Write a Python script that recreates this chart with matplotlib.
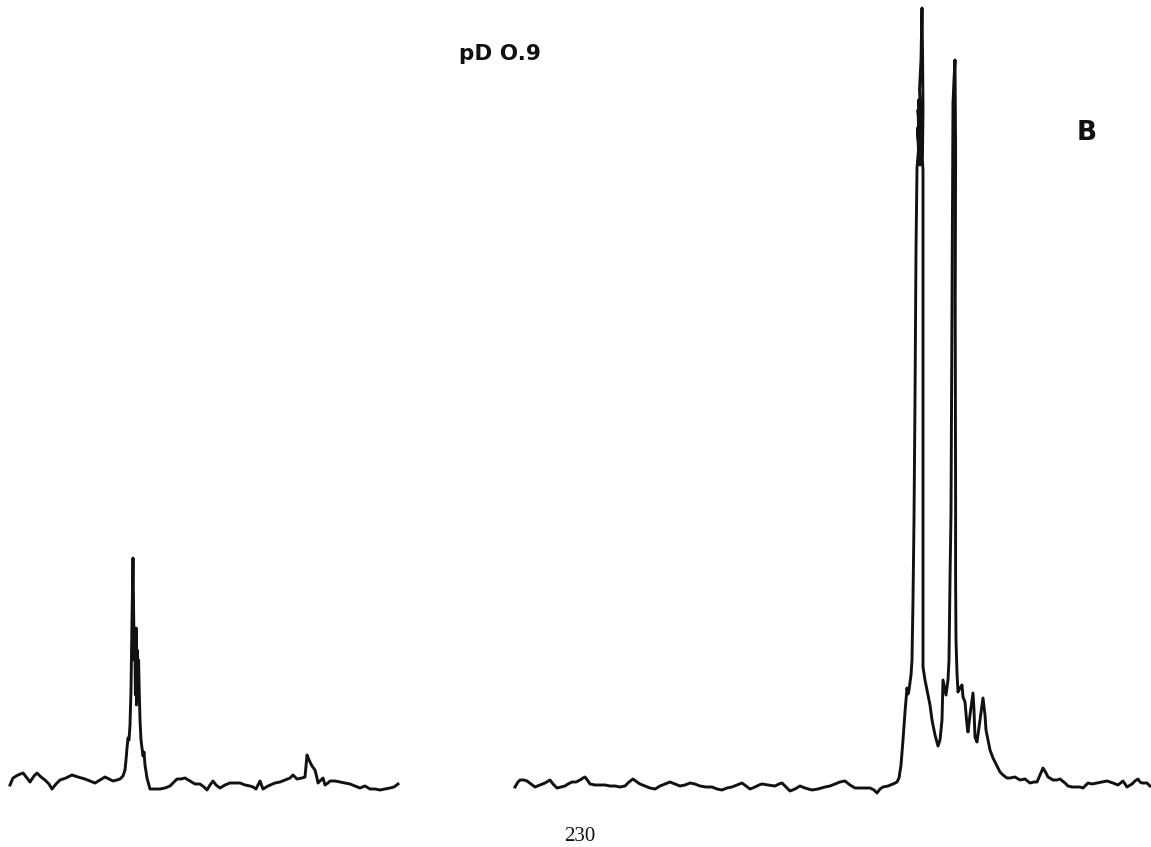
"""Scanned 1H NMR spectrum, pD 0.9 (panel B), traced by hand from the page.

x = chart position along the trace, y = signal height above the paper floor.
"""
import matplotlib
matplotlib.use("Agg")
import matplotlib.pyplot as plt

# left piece of the trace
left_x = [10, 13, 18, 23, 27, 30, 34, 37, 41, 45, 49, 52, 56, 60, 66, 72, 78, 85, 90, 95,
          100, 105, 109, 113, 117, 120, 123, 125, 126, 127, 128, 129, 130, 131, 132, 133,
          133.6, 134.2, 134.8, 135.4, 136.2, 136.8, 137.2, 136.4, 137.6, 136.6, 138.0, 138.6,
          139.2, 140, 141, 142, 143, 144, 145, 147, 150, 155, 160, 165, 170, 174, 177, 181,
          185, 190, 195, 200, 204, 207, 210, 213, 216, 220, 225, 230, 235, 240, 245, 250,
          253, 256, 260, 263, 268, 275, 280, 285, 290, 293, 297, 302, 305, 307, 309, 312,
          315, 317, 318, 321, 323, 325, 328, 330, 335, 340, 345, 350, 355, 360, 365, 370,
          375, 380, 385, 390, 394, 398]
left_h = [15, 22, 25, 27, 22, 18, 24, 27, 23, 20, 16, 11, 16, 20, 22, 25, 23, 21, 19, 17,
          20, 23, 21, 19, 20, 21, 24, 30, 40, 52, 62, 60, 75, 110, 180, 242,
          190, 140, 165, 105, 172, 120, 150, 95, 140, 110, 100, 140,
          110, 80, 60, 52, 44, 48, 35, 22, 11, 11, 11, 12, 14, 18, 21, 21,
          22, 19, 16, 16, 13, 10, 15, 19, 15, 12, 15, 17, 17, 17, 15, 14,
          13, 11, 19, 11, 14, 17, 18, 20, 22, 25, 21, 22, 23, 45, 40, 34,
          30, 22, 17, 20, 22, 15, 17, 19, 19, 18, 17, 16, 14, 12, 14, 11,
          11, 10, 11, 12, 13, 16]

# right piece of the trace, with the two big lines
right_x = [515, 518, 520, 524, 527, 531, 535, 540, 545, 550, 553, 557, 561, 565, 568, 572,
           576, 580, 583, 585, 588, 590, 595, 600, 605, 610, 615, 620, 625, 629, 633, 637,
           640, 645, 650, 655, 660, 665, 670, 675, 680, 685, 690, 695, 700, 706, 712, 717,
           722, 727, 732, 737, 742, 746, 750, 755, 759, 762, 768, 775, 779, 782, 786, 790,
           795, 800, 805, 812, 818, 825, 830, 835, 840, 845, 850, 855, 860, 865, 870, 874,
           877, 880, 883, 888, 893, 897, 899, 901, 903, 905, 906, 907, 908, 909, 911, 912,
           913, 914, 915, 916, 917, 918.5, 917.5, 920, 918, 921, 918.5, 921.5, 919.5, 921,
           922, 922.6, 923, 922.4, 923, 923, 923, 923, 925, 927, 930, 932, 935, 938, 940,
           942, 943, 945, 946, 948, 949, 950, 951, 952, 953, 954, 955, 955.6, 955.2, 955.6,
           955.6, 956, 957, 958, 960, 962, 963, 965, 967, 968, 970, 973, 974, 975, 977,
           980, 983, 985, 986, 988, 990, 993, 997, 1000, 1003, 1007, 1010, 1015, 1020, 1025,
           1030, 1034, 1037, 1040, 1043, 1046, 1048, 1053, 1057, 1060, 1065, 1068, 1072,
           1076, 1080, 1083, 1088, 1092, 1097, 1102, 1107, 1110, 1113, 1118, 1123, 1125,
           1127, 1132, 1135, 1138, 1140, 1142, 1147, 1150]
right_h = [13, 18, 20, 20, 19, 16, 13, 15, 17, 20, 16, 12, 13, 14, 16, 18,
           18, 20, 22, 23, 19, 16, 15, 15, 15, 14, 14, 13, 14, 18, 21, 18,
           16, 14, 12, 11, 14, 16, 18, 16, 14, 15, 17, 16, 14, 13, 13, 11,
           10, 12, 13, 15, 17, 14, 11, 13, 15, 16, 15, 14, 16, 17, 13, 9,
           11, 14, 12, 10, 11, 13, 14, 16, 18, 19, 15, 12, 12, 12, 12, 10,
           7, 11, 13, 14, 16, 18, 22, 35, 60, 88, 100, 112, 106, 110, 125, 140,
           200, 280, 400, 550, 632, 650, 672, 635, 690, 650, 700, 670, 710, 740,
           792, 740, 690, 640, 630, 400, 220, 133, 120, 110, 95, 80, 65, 54, 60,
           80, 120, 110, 105, 120, 140, 220, 287, 500, 697, 720, 740, 650, 492, 300,
           220, 160, 127, 108, 112, 115, 103, 98, 75, 68, 85, 107, 90, 63, 58,
           80, 102, 85, 70, 60, 50, 42, 34, 28, 25, 22, 22, 23, 20, 21,
           17, 18, 18, 25, 32, 27, 23, 20, 20, 21, 17, 14, 13,
           13, 13, 12, 17, 16, 17, 18, 19, 18, 17, 15, 19, 16,
           13, 16, 19, 21, 18, 17, 17, 14]

label = "pD O.9"
panel = "B"
page_no = "230"

fig = plt.figure(figsize=(11.51, 8.47), dpi=100)
ax = fig.add_axes([0, 0, 1, 1])
ax.plot(left_x, left_h, color="#111111", lw=2.1, solid_joinstyle="round")
ax.plot(right_x, right_h, color="#111111", lw=2.1, solid_joinstyle="round")
ax.set_xlim(0, 1151)
ax.set_ylim(-47, 800)
ax.axis("off")

ax.text(500 / 1151, 1 - 54 / 847, label, transform=ax.transAxes, ha="center", va="center",
        fontsize=15.5, fontweight="bold", family="DejaVu Sans", color="#111111")
ax.text(1087 / 1151, 1 - 133 / 847, panel, transform=ax.transAxes, ha="center", va="center",
        fontsize=19, fontweight="bold", family="DejaVu Sans", color="#111111")
ax.text(580 / 1151, 1 - 836 / 847, page_no, transform=ax.transAxes, ha="center", va="center",
        fontsize=15, family="Liberation Serif", color="#111111")

fig.savefig("out.png", dpi=100, facecolor="white")
